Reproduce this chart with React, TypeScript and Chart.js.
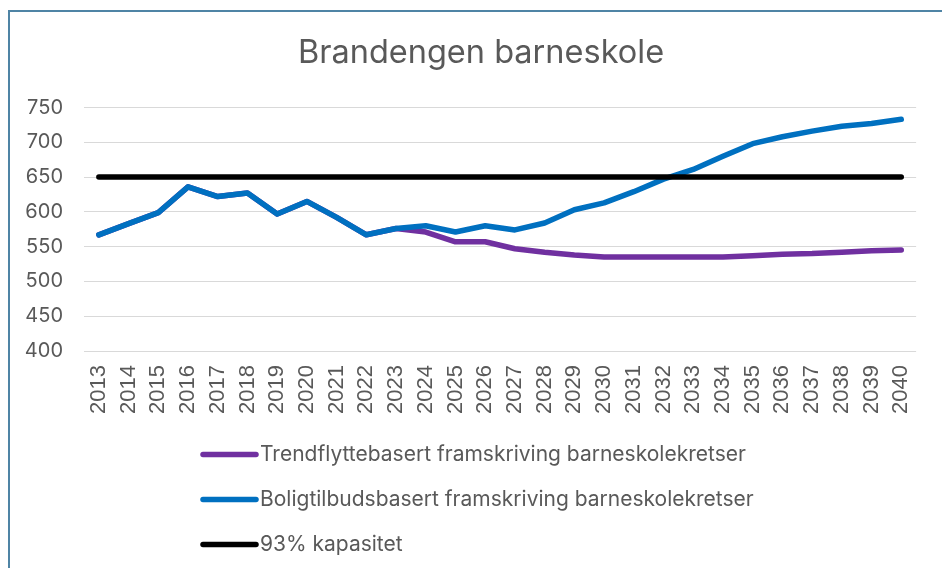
import React, { useEffect, useRef } from "react";
import { Chart, registerables } from "chart.js";

Chart.register(...registerables);

const years: string[] = [
  "2013", "2014", "2015", "2016", "2017", "2018", "2019", "2020", "2021", "2022",
  "2023", "2024", "2025", "2026", "2027", "2028", "2029", "2030", "2031", "2032",
  "2033", "2034", "2035", "2036", "2037", "2038", "2039", "2040",
];

const trendValues: number[] = [
  567, 583, 599, 636, 622, 627, 597, 615, 592, 567,
  576, 571, 557, 557, 547, 542, 538, 535, 535, 535,
  535, 535, 537, 539, 540, 542, 544, 545,
];

const boligValues: number[] = [
  567, 583, 599, 636, 622, 627, 597, 615, 592, 567,
  576, 580, 571, 580, 574, 584, 603, 613, 629, 647,
  661, 680, 698, 708, 716, 723, 727, 733,
];

const capacityValues: number[] = [
  650, 650, 650, 650, 650, 650, 650, 650, 650, 650,
  650, 650, 650, 650, 650, 650, 650, 650, 650, 650,
  650, 650, 650, 650, 650, 650, 650, 650,
];

const seriesNames: string[] = [
  "Trendflyttebasert framskriving barneskolekretser",
  "Boligtilbudsbasert framskriving barneskolekretser",
  "93% kapasitet",
];

const chartTitle = "Brandengen barneskole";

const yTicks: number[] = [400, 450, 500, 550, 600, 650, 700, 750];

const TEXT = "#595959";

const titleAndLegendPlugin = {
  id: "titleAndLegend",
  afterDraw(chart: any) {
    const ctx = chart.ctx;
    ctx.save();
    // title
    ctx.fillStyle = TEXT;
    ctx.font = "32.5px Inter, 'Open Sans', sans-serif";
    ctx.textAlign = "center";
    ctx.textBaseline = "alphabetic";
    ctx.fillText(chartTitle, 481, 62.5);
    // legend
    const x0 = 203;
    const x1 = 256;
    const rowY = [454.5, 499.5, 544.5];
    chart.data.datasets.forEach((ds: any, i: number) => {
      const y = rowY[i];
      ctx.beginPath();
      ctx.strokeStyle = ds.borderColor;
      ctx.lineWidth = 5.5;
      ctx.lineCap = "round";
      ctx.moveTo(x0, y);
      ctx.lineTo(x1, y);
      ctx.stroke();
      ctx.fillStyle = TEXT;
      ctx.font = "21px Inter, 'Open Sans', sans-serif";
      ctx.textBaseline = "alphabetic";
      ctx.textAlign = "left";
      ctx.fillText(ds.label, 260, y + 6.5);
    });
    ctx.restore();
  },
};

export default function App() {
  const ref = useRef<HTMLCanvasElement | null>(null);

  useEffect(() => {
    if (!ref.current) return;
    const chart = new Chart(ref.current, {
      type: "line",
      data: {
        labels: years,
        datasets: [
          {
            label: seriesNames[0],
            data: trendValues,
            borderColor: "#7030A0",
            backgroundColor: "#7030A0",
            borderWidth: 5.5,
            pointRadius: 0,
            tension: 0,
            borderCapStyle: "round",
            borderJoinStyle: "round",
            order: 3,
          },
          {
            label: seriesNames[1],
            data: boligValues,
            borderColor: "#0070C0",
            backgroundColor: "#0070C0",
            borderWidth: 5.5,
            pointRadius: 0,
            tension: 0,
            borderCapStyle: "round",
            borderJoinStyle: "round",
            order: 2,
          },
          {
            label: seriesNames[2],
            data: capacityValues,
            borderColor: "#000000",
            backgroundColor: "#000000",
            borderWidth: 5.5,
            pointRadius: 0,
            tension: 0,
            borderCapStyle: "round",
            borderJoinStyle: "round",
            order: 1,
          },
        ],
      },
      options: {
        responsive: false,
        animation: false,
        layout: { padding: { left: 0, right: 19, top: 107.5, bottom: 0 } },
        plugins: {
          legend: { display: false },
          tooltip: { enabled: false },
          title: { display: false },
        },
        scales: {
          x: {
            offset: true,
            grid: { display: false, drawTicks: false },
            border: { display: false },
            ticks: {
              color: TEXT,
              font: { family: "'Liberation Sans', Arial, sans-serif", size: 22 },
              minRotation: 90,
              maxRotation: 90,
              autoSkip: false,
              padding: 14,
            },
            afterFit: (s: any) => {
              s.height = 568 - 351;
            },
          },
          y: {
            min: 400,
            max: 750,
            afterBuildTicks: (s: any) => {
              s.ticks = yTicks.map((v) => ({ value: v }));
            },
            grid: { color: "#d9d9d9", lineWidth: 1, drawTicks: false },
            border: { display: false },
            ticks: {
              color: TEXT,
              font: { family: "Inter, 'Liberation Sans', sans-serif", size: 20 },
              padding: 21,
            },
            afterFit: (s: any) => {
              s.width = 84;
            },
          },
        },
      },
      plugins: [titleAndLegendPlugin],
    });
    return () => chart.destroy();
  }, []);

  return (
    <div>
      <canvas
        ref={ref}
        width={942}
        height={568}
        style={{ position: "fixed", left: 0, top: 0, width: 942, height: 568 }}
      />
      <div
        style={{
          position: "fixed",
          left: 8,
          top: 10,
          right: -20,
          bottom: -20,
          borderLeft: "2px solid #4f84a5",
          borderTop: "2px solid #4f84a5",
          pointerEvents: "none",
        }}
      />
    </div>
  );
}
